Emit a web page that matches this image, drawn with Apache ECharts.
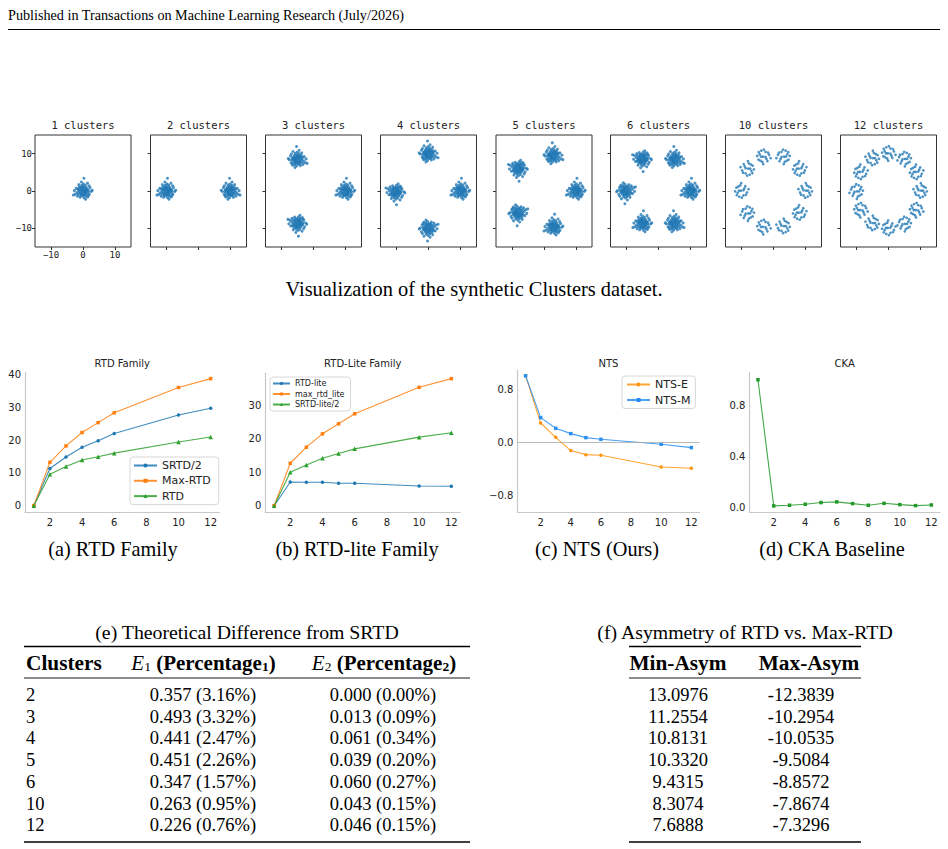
<!DOCTYPE html>
<html>
<head>
<meta charset="utf-8">
<script src="https://cdn.jsdelivr.net/npm/echarts@6/dist/echarts.min.js"></script>
<style>
  html, body { margin: 0; padding: 0; background: #fff; }
  #page { width: 948px; height: 849px; }
</style>
</head>
<body>
<div id="page"></div>
<script>
// ---- scatter panels: synthetic Clusters dataset ----
const clusterCounts = [1, 2, 3, 4, 5, 6, 10, 12];
const clusterCenters = [
  [[0, 0]],
  [[-10, 0], [10, 0]],
  [[10, 0], [-5, 8.5], [-5, -8.7]],
  [[10, 0], [0, 10], [-10.3, -0.3], [0, -10]],
  [[10, 0], [2.9, 9.5], [-8.1, 6.0], [-8.1, -5.9], [3.0, -9.6]],
  [[10, 0], [5.1, 8.5], [-5.1, 8.6], [-10.2, 0], [-5.0, -8.7], [5.0, -8.7]],
  [[10, 0], [8.1, 5.9], [3.1, 9.3], [-3.1, 9.3], [-8.1, 5.9], [-10, 0], [-8.1, -5.9], [-3.1, -9.5], [3.1, -9.5], [8.1, -5.9]],
  [[10, 0], [8.7, 5], [5, 8.7], [0, 10.2], [-5, 8.7], [-8.7, 5], [-10, 0], [-8.7, -5], [-5, -8.7], [0, -10], [5, -8.7], [8.7, -5]]
];
// offsets of the points around a cluster centre, estimated from the dense blobs
const denseSpread = [
  [0.2, 0.1], [-0.5, 0.4], [0.8, -0.3], [-0.9, -0.6], [1.3, 0.5], [-1.4, 0.2], [0.4, 1.2], [-0.2, -1.3],
  [1.0, 1.0], [-1.1, 1.1], [0.6, -1.1], [-0.7, -1.2], [1.8, -0.2], [-1.9, -0.4], [0.1, 1.9], [0.3, -1.8],
  [2.2, 0.9], [-2.4, -0.9], [1.5, -1.6], [-1.3, 1.7], [0.0, 0.6], [0.7, 0.3], [-0.3, -0.4], [1.2, -0.8],
  [-0.8, 0.8], [0.5, 0.7], [-0.6, -0.1], [0.9, 0.0], [-1.2, -0.2], [0.2, -0.7], [-0.1, 0.9], [1.6, 0.3],
  [-1.6, 0.6], [0.4, -0.3], [-0.4, 1.5], [2.0, -0.9], [-2.1, 0.7], [0.7, 1.6], [-0.9, -1.7], [1.1, 0.4],
  [-3.0, -1.1], [2.6, -0.1], [0.3, 3.4], [-0.5, 2.4], [1.4, 2.1], [0.8, -2.2], [-1.7, -1.4], [2.9, 0.2],
  [-2.7, 0.1], [1.9, 1.4], [-0.2, 0.2], [0.6, -0.6], [-1.0, 0.4], [1.3, -0.2], [-0.6, -0.8], [0.1, -1.0],
  [-1.5, -0.9], [1.7, -1.2], [-0.3, 1.1], [0.9, -1.4]
];
// sparser clouds used by the 10 and 12 cluster panels
const looseSpread = [
  [0.2, 0.1], [-0.9, 0.7], [1.2, -0.5], [-0.6, -1.2], [1.6, 0.9], [-1.7, -0.4], [0.4, 1.5], [-0.1, -1.8],
  [1.0, 1.2], [-1.2, 1.3], [0.7, -1.5], [-1.4, -1.0], [2.0, -0.1], [-2.2, 0.5], [0.1, 2.1], [-0.6, 0.2],
  [0.8, 0.1], [1.5, -1.1]
];
const scatterTicks = [-10, 0, 10];

// ---- line panels ----
const clusterSteps = [1, 2, 3, 4, 5, 6, 10, 12];
const srtdHalf = [0, 11.3, 14.8, 17.8, 19.8, 22.0, 27.6, 29.7];
const maxRtd = [0, 13.2, 18.2, 22.3, 25.3, 28.3, 36.0, 38.7];
const rtd = [0, 9.6, 11.9, 13.9, 14.9, 16.0, 19.4, 20.9];
const rtdLite = [0, 7.1, 7.0, 7.0, 6.7, 6.7, 5.9, 5.8];
const maxRtdLite = [0, 12.7, 17.5, 21.5, 24.5, 27.5, 35.4, 38.0];
const srtdLiteHalf = [0, 10.0, 12.2, 14.2, 15.6, 17.0, 20.5, 21.8];
const ntsE = [1.0, 0.29, 0.075, -0.125, -0.186, -0.196, -0.371, -0.391];
const ntsM = [1.0, 0.371, 0.21, 0.13, 0.07, 0.045, -0.03, -0.08];
const ckaSteps = [1, 2, 3, 4, 5, 6, 7, 8, 9, 10, 11, 12];
const cka = [1.0, 0.016, 0.021, 0.029, 0.042, 0.047, 0.034, 0.021, 0.036, 0.026, 0.018, 0.023];
const xTicks = [2, 4, 6, 8, 10, 12];
const rtdTicks = [0, 10, 20, 30, 40];
const rtdLiteTicks = [0, 10, 20, 30];
const ntsTicks = [-0.8, 0, 0.8];
const ckaTicks = [0, 0.4, 0.8];

// ---- tables ----
const tableClusters = ['2', '3', '4', '5', '6', '10', '12'];
const e1 = [0.357, 0.493, 0.441, 0.451, 0.347, 0.263, 0.226];
const e1Pct = [3.16, 3.32, 2.47, 2.26, 1.57, 0.95, 0.76];
const e2 = [0.000, 0.013, 0.061, 0.039, 0.060, 0.043, 0.046];
const e2Pct = [0.00, 0.09, 0.34, 0.20, 0.27, 0.15, 0.15];
const minAsym = ['13.0976', '11.2554', '10.8131', '10.3320', '9.4315', '8.3074', '7.6888'];
const maxAsym = ['-12.3839', '-10.2954', '-10.0535', '-9.5084', '-8.8572', '-7.8674', '-7.3296'];

const serif = '"Liberation Serif", serif';
const sans = '"DejaVu Sans", sans-serif';
const mono = '"DejaVu Sans Mono", monospace';
const minus = v => String(v).replace('-', '\u2212');

const chart = echarts.init(document.getElementById('page'), null, { renderer: 'svg' });

const grids = [], xAxes = [], yAxes = [], series = [], graphics = [];

// scatter panels
const scatterLeft = [35, 150.5, 265.5, 380.5, 496, 610.5, 725.5, 840.5];
clusterCounts.forEach((n, p) => {
  grids.push({ left: scatterLeft[p], top: 135, width: 96, height: 112, show: true, borderColor: '#333', borderWidth: 1 });
  const axis = (pos) => ({
    gridIndex: p, type: 'value', min: -15, max: 15, position: pos,
    axisLine: { show: false, onZero: false }, splitLine: { show: false },
    axisTick: { show: true, length: 3, customValues: scatterTicks, lineStyle: { color: '#333' } },
    axisLabel: { show: p === 0, customValues: scatterTicks, formatter: minus, fontFamily: mono, fontSize: 9, color: '#222', margin: 3 }
  });
  xAxes.push(axis('bottom'));
  yAxes.push(axis('left'));
  const spread = n > 6 ? looseSpread : denseSpread;
  const pts = [];
  clusterCenters[p].forEach((c, k) => {
    const sx = k % 2 ? -1 : 1, sy = k % 4 > 1 ? -1 : 1;
    spread.forEach(o => pts.push([c[0] + sx * o[0], c[1] + sy * o[1]]));
  });
  series.push({ type: 'scatter', xAxisIndex: p, yAxisIndex: p, data: pts, symbolSize: n > 6 ? 2.7 : 3, itemStyle: { color: '#1f77b4' }, silent: true });
  graphics.push({ type: 'text', x: scatterLeft[p] + 48, y: 125, style: { text: n + ' clusters', fontFamily: mono, fontSize: 10.5, fill: '#222', textAlign: 'center', textVerticalAlign: 'middle', align: 'center', verticalAlign: 'middle' } });
});

// line panels
const linePanels = [
  { title: 'RTD Family', grid: { left: 25, top: 372.4, width: 194.5, height: 139.6 }, yMin: -1.94, yMax: 40.6, ticks: rtdTicks, fmt: v => String(v) },
  { title: 'RTD-Lite Family', grid: { left: 265.3, top: 373.3, width: 194.9, height: 139 }, yMin: -1.97, yMax: 39.6, ticks: rtdLiteTicks, fmt: v => String(v) },
  { title: 'NTS', grid: { left: 517.3, top: 370, width: 182.3, height: 142.3 }, yMin: -1.053, yMax: 1.087, ticks: ntsTicks, fmt: v => minus(v.toFixed(1)) },
  { title: 'CKA', grid: { left: 749.3, top: 372.7, width: 190.7, height: 139.6 }, yMin: -0.034, yMax: 1.055, ticks: ckaTicks, fmt: v => v.toFixed(1) }
];
linePanels.forEach((lp, i) => {
  const g = 8 + i;
  grids.push(lp.grid);
  xAxes.push({
    gridIndex: g, type: 'value', min: 0.45, max: 12.55,
    axisLine: { show: true, onZero: false, lineStyle: { color: '#c8c8c8', width: 1.2 } },
    axisTick: { show: false }, splitLine: { show: false },
    axisLabel: { customValues: xTicks, fontFamily: sans, fontSize: 10, color: '#222', margin: 5 }
  });
  yAxes.push({
    gridIndex: g, type: 'value', min: lp.yMin, max: lp.yMax,
    axisLine: { show: true, onZero: false, lineStyle: { color: '#c8c8c8', width: 1.2 } },
    axisTick: { show: false }, splitLine: { show: false },
    axisLabel: { customValues: lp.ticks, formatter: lp.fmt, fontFamily: sans, fontSize: 10, color: '#222', margin: 4 }
  });
  graphics.push({ type: 'text', x: lp.grid.left + lp.grid.width / 2, y: 363.3, style: { text: lp.title, fontFamily: sans, fontSize: 10, fill: '#222', textAlign: 'center', textVerticalAlign: 'middle', align: 'center', verticalAlign: 'middle' } });
});

const pairs = (xs, ys) => xs.map((x, i) => [x, ys[i]]);
const line = (name, g, xs, ys, color, symbol, extra) => Object.assign({
  name, type: 'line', xAxisIndex: g, yAxisIndex: g, data: pairs(xs, ys),
  symbol, symbolSize: symbol === 'triangle' ? 4.5 : 3.5, showSymbol: true,
  lineStyle: { color, width: 1.1, opacity: 0.85 }, itemStyle: { color }
}, extra || {});

series.push(
  line('SRTD/2', 8, clusterSteps, srtdHalf, '#1f77b4', 'circle'),
  line('Max-RTD', 8, clusterSteps, maxRtd, '#ff7f0e', 'rect'),
  line('RTD', 8, clusterSteps, rtd, '#2ca02c', 'triangle'),
  line('RTD-lite', 9, clusterSteps, rtdLite, '#1f77b4', 'circle'),
  line('max_rtd_lite', 9, clusterSteps, maxRtdLite, '#ff7f0e', 'rect'),
  line('SRTD-lite/2', 9, clusterSteps, srtdLiteHalf, '#2ca02c', 'triangle'),
  line('NTS-E', 10, clusterSteps, ntsE, '#ff9410', 'circle', {
    markLine: { silent: true, symbol: 'none', label: { show: false }, data: [{ yAxis: 0 }], lineStyle: { color: '#aaaaaa', width: 0.8, type: 'solid' } }
  }),
  line('NTS-M', 10, clusterSteps, ntsM, '#2a8ff0', 'rect'),
  line('CKA', 11, ckaSteps, cka, '#23992a', 'rect')
);

const legendBase = {
  orient: 'vertical', selectedMode: false, backgroundColor: 'rgba(255,255,255,0.85)',
  borderColor: '#d8d8d8', borderWidth: 1, borderRadius: 3, itemWidth: 23, itemHeight: 5, itemGap: 4.3,
  textStyle: { fontFamily: sans, fontSize: 11, color: '#222' }
};
const legends = [
  Object.assign({}, legendBase, { data: ['SRTD/2', 'Max-RTD', 'RTD'], left: 130, top: 457, padding: [3, 8, 3, 3] }),
  Object.assign({}, legendBase, { data: ['RTD-lite', 'max_rtd_lite', 'SRTD-lite/2'], left: 270, top: 377, padding: [2.5, 6, 2.5, 2], itemWidth: 17, itemHeight: 4, itemGap: 2.5, textStyle: { fontFamily: sans, fontSize: 8, color: '#222' } }),
  Object.assign({}, legendBase, { data: ['NTS-E', 'NTS-M'], left: 622, top: 376, padding: [3, 5, 3, 4], itemGap: 4.5 })
];

// page text
const txt = (x, y, text, size, align, extra) => ({
  type: 'text', x, y, silent: true,
  style: Object.assign({ text, fontFamily: serif, fontSize: size, fill: '#000', textAlign: align, textVerticalAlign: 'middle', align, verticalAlign: 'middle' }, extra || {})
});
const rule = (x1, x2, y, w) => ({ type: 'line', silent: true, shape: { x1, y1: y, x2, y2: y }, style: { stroke: '#000', lineWidth: w } });

graphics.push(
  txt(8, 15, 'Published in Transactions on Machine Learning Research (July/2026)', 14.2, 'left'),
  rule(8, 940, 29.5, 1),
  txt(474, 289, 'Visualization of the synthetic Clusters dataset.', 20.4, 'center'),
  txt(113, 549, '(a) RTD Family', 20.3, 'center'),
  txt(357, 549, '(b) RTD-lite Family', 20.3, 'center'),
  txt(597, 549, '(c) NTS (Ours)', 20.3, 'center'),
  txt(832, 549, '(d) CKA Baseline', 20.3, 'center')
);

// table (e)
const rowY = tableClusters.map((_, i) => 695 + 21.7 * i);
const richHead = {
  i: { fontFamily: serif, fontSize: 21, fontStyle: 'italic' },
  b: { fontFamily: serif, fontSize: 21, fontWeight: 'bold' },
  s: { fontFamily: serif, fontSize: 13.5, verticalAlign: 'bottom' },
  sb: { fontFamily: serif, fontSize: 13.5, fontWeight: 'bold', verticalAlign: 'bottom' }
};
graphics.push(
  txt(247, 632, '(e) Theoretical Difference from SRTD', 19.8, 'center'),
  rule(24, 470, 646.5, 1.6),
  txt(26, 663, 'Clusters', 21.3, 'left', { fontWeight: 'bold' }),
  txt(203.5, 663, '{i|E}{s|1} {b|(Percentage}{sb|1}{b|)}', 21, 'center', { rich: richHead }),
  txt(384, 663, '{i|E}{s|2} {b|(Percentage}{sb|2}{b|)}', 21, 'center', { rich: richHead }),
  rule(24, 470, 678, 0.9),
  rule(24, 470, 842, 1.6)
);
tableClusters.forEach((c, i) => {
  graphics.push(
    txt(26, rowY[i], c, 18.5, 'left'),
    txt(203, rowY[i], e1[i].toFixed(3) + ' (' + e1Pct[i].toFixed(2) + '%)', 18.5, 'center'),
    txt(383, rowY[i], e2[i].toFixed(3) + ' (' + e2Pct[i].toFixed(2) + '%)', 18.5, 'center')
  );
});

// table (f)
graphics.push(
  txt(745, 632, '(f) Asymmetry of RTD vs. Max-RTD', 19.8, 'center'),
  rule(629, 861, 646.5, 1.6),
  txt(678, 663, 'Min-Asym', 21.3, 'center', { fontWeight: 'bold' }),
  txt(809, 663, 'Max-Asym', 21.3, 'center', { fontWeight: 'bold' }),
  rule(629, 861, 678, 0.9),
  rule(629, 861, 842, 1.6)
);
minAsym.forEach((v, i) => {
  graphics.push(
    txt(678, rowY[i], v, 18.5, 'center'),
    txt(801, rowY[i], maxAsym[i], 18.5, 'center')
  );
});

chart.setOption({
  animation: false,
  backgroundColor: '#fff',
  grid: grids,
  xAxis: xAxes,
  yAxis: yAxes,
  legend: legends,
  series,
  graphic: { elements: graphics }
});
</script>
</body>
</html>
